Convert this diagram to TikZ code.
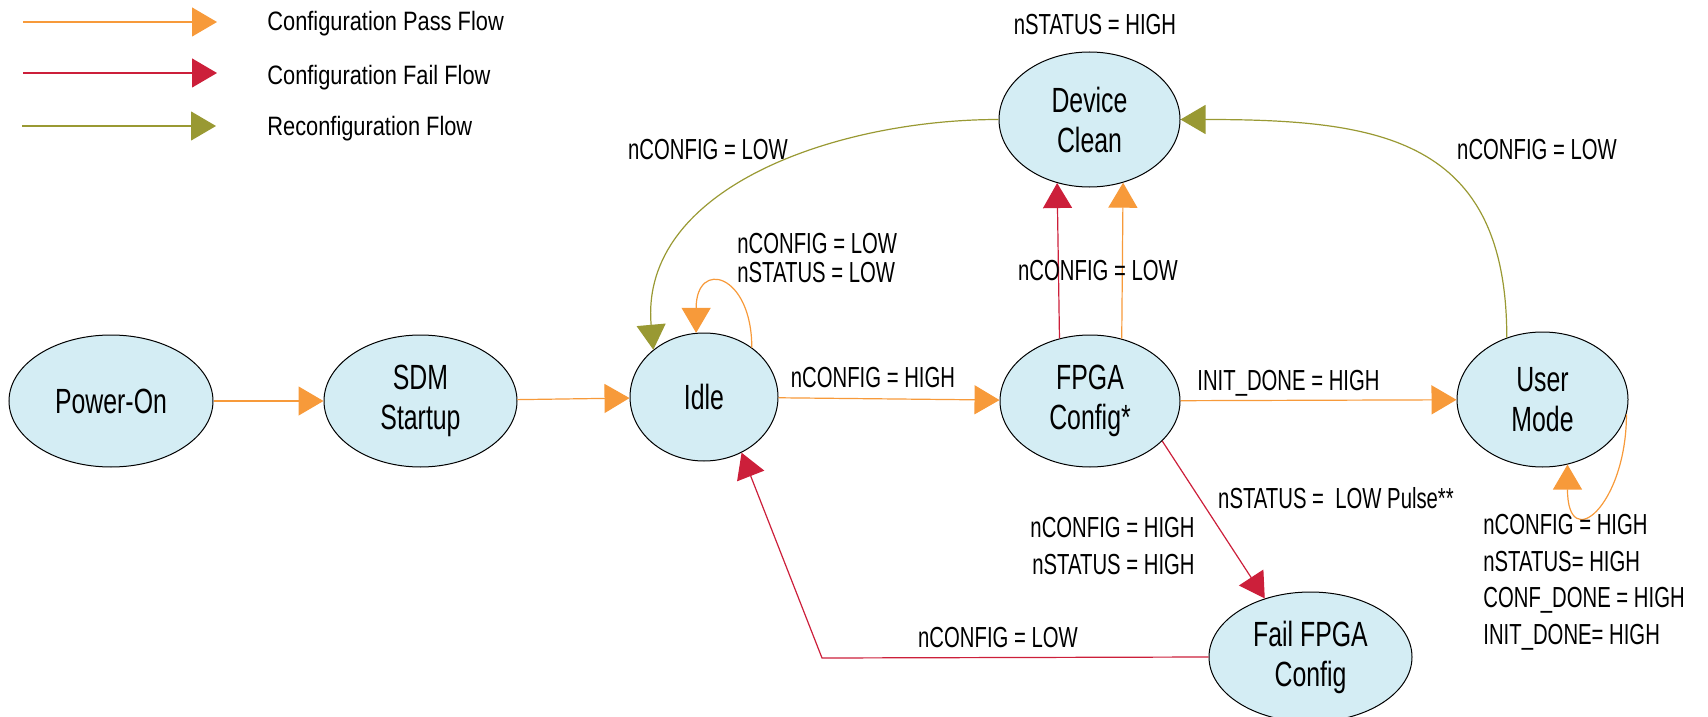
\documentclass[tikz,border=0pt]{standalone}
\usepackage{fontspec}
\setmainfont{Liberation Sans}
\newfontfamily\statefont[FakeStretch=0.71]{Liberation Sans}
\newfontfamily\condfont[FakeStretch=0.7]{Liberation Sans}
\newfontfamily\legendfont[FakeStretch=0.82]{Liberation Sans}
\usetikzlibrary{shapes.geometric}
\usetikzlibrary{arrows.meta}
\definecolor{passcol}{HTML}{F79A3A}
\definecolor{failcol}{HTML}{CC1F3A}
\definecolor{recfgcol}{HTML}{999933}
\definecolor{statefill}{HTML}{D4EDF4}
\tikzset{>={Triangle[length=12.5pt,width=14.5pt]}}
\tikzset{fsmstate/.style = {shape=ellipse,draw,fill=statefill,line width=0.5pt,inner sep=0pt,align=center,font=\statefont\fontsize{17.5}{20}\selectfont}}
\tikzset{passflow/.style = {->,passcol,line width=0.6pt}}
\tikzset{failflow/.style = {->,failcol,line width=0.6pt}}
\tikzset{reflow/.style = {->,recfgcol,line width=0.6pt}}
\tikzset{cond/.style = {inner sep=0pt,anchor=base,font=\condfont\fontsize{14.5}{18.5}\selectfont}}
\tikzset{legtext/.style = {inner sep=0pt,anchor=base west,font=\legendfont\fontsize{13.3}{16}\selectfont}}

\begin{document}
\begin{tikzpicture}[x=0.5pt,y=-0.5pt]
                \useasboundingbox (0,0) rectangle (1708,717);
                \node[fsmstate,minimum width=102pt,minimum height=66pt] (pwr) at (111,401) {Power-On};
                \node[fsmstate,minimum width=96.5pt,minimum height=66pt] (sdm) at (420.5,401) {SDM\\Startup};
                \node[fsmstate,minimum width=74pt,minimum height=64pt] (idle) at (704,397) {Idle};
                \node[fsmstate,minimum width=90pt,minimum height=66pt] (fpga) at (1090,401) {FPGA\\Config*};
                \node[fsmstate,minimum width=90.5pt,minimum height=67.5pt] (clean) at (1089.5,119.5) {Device\\Clean};
                \node[fsmstate,minimum width=85.5pt,minimum height=67.5pt] (user) at (1542.5,399.5) {User\\Mode};
                \node[fsmstate,minimum width=101.5pt,minimum height=65pt] (fail) at (1310.5,657) {Fail FPGA\\Config};
                \coordinate (failbend) at (822,658);
                \draw[passflow] (pwr) -- (sdm);
                \draw[passflow] (sdm) -- (idle);
                \draw[passflow] (idle) -- (fpga);
                \draw[passflow] (fpga) -- (user);
                \draw[failflow] (fpga.116) -- (clean.243);
                \draw[passflow] (fpga.63) -- (clean.-62);
                \draw[reflow] (clean.west) to[out=180,in=95] (idle.137);
                \draw[reflow] (user.120) to[out=90,in=0,looseness=1.3] (clean.east);
                \draw[passflow] (idle.46) to[out=90,in=90,looseness=3.3] (idle.97);
                \draw[passflow] (user.-10) to[out=-90,in=-90,looseness=3] (user.-69);
                \draw[failflow] (fpga.-29) -- (fail.128);
                \draw[failflow] (fail.west) -- (failbend) -- (idle.-56);
                \node[cond] (cleanlbl) at (1095,35) {nSTATUS = HIGH};
                \node[cond] (idlerst) at (708,160) {nCONFIG = LOW};
                \node[cond] (userrst) at (1537,160) {nCONFIG = LOW};
                \node[cond] (fpgarst) at (1098,280) {nCONFIG = LOW};
                \node[cond,anchor=north west,align=left,font=\condfont\fontsize{14.5}{14.5}\selectfont] (idleloop) at (737,233) {nCONFIG = LOW\\nSTATUS = LOW};
                \node[cond] (startcfg) at (873,387) {nCONFIG = HIGH};
                \node[cond,anchor=base west] (initdone) at (1197,390) {INIT\_DONE = HIGH};
                \node[cond] (lowpulse) at (1336,508) {nSTATUS = \ LOW Pulse**};
                \node[cond,anchor=north east,align=right] (failhold) at (1195,517) {nCONFIG = HIGH\\nSTATUS = HIGH};
                \node[cond] (failrst) at (998,647) {nCONFIG = LOW};
                \node[cond,anchor=north west,align=left,font=\condfont\fontsize{14.5}{18.3}\selectfont] (userloop) at (1483,514) {nCONFIG = HIGH\\nSTATUS= HIGH\\CONF\_DONE = HIGH\\INIT\_DONE= HIGH};
                \coordinate (passbeg) at (23,22);
                \coordinate (passend) at (217,22);
                \coordinate (failbeg) at (23,73);
                \coordinate (failend) at (217,73);
                \coordinate (rebeg) at (22,126);
                \coordinate (reend) at (216,126);
                \draw[passflow] (passbeg) -- (passend);
                \draw[failflow] (failbeg) -- (failend);
                \draw[reflow] (rebeg) -- (reend);
                \node[legtext] (passtxt) at (267,31) {Configuration Pass Flow};
                \node[legtext] (failtxt) at (267,85) {Configuration Fail Flow};
                \node[legtext] (retxt) at (267,135) {Reconfiguration Flow};
            \end{tikzpicture}
\end{document}
